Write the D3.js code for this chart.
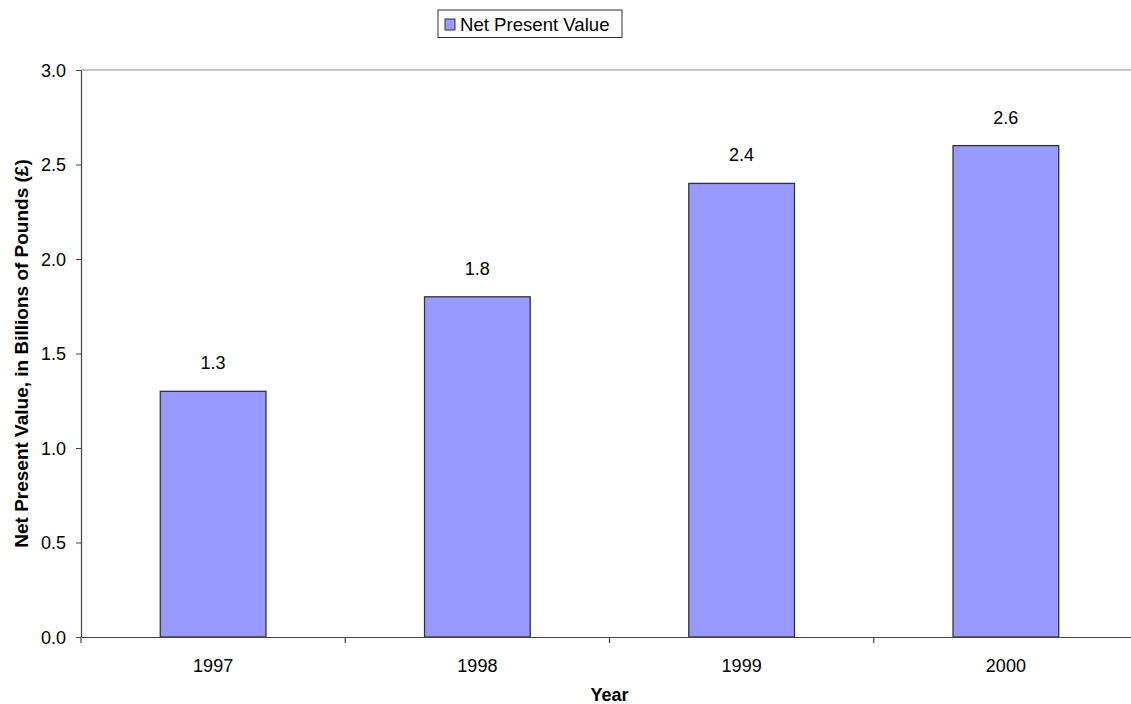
<!DOCTYPE html>
<html><head><meta charset="utf-8">
<script src="https://cdn.jsdelivr.net/npm/d3@7"></script>
<style>body{margin:0;background:#fff}svg{display:block}text{font-family:"Liberation Sans",Arial,sans-serif}</style>
</head><body><svg id="c" width="1131" height="704"></svg>
<script>
const categories = ["1997","1998","1999","2000"];
const values = [1.3, 1.8, 2.4, 2.6];
const yTicks = [0,0.5,1.0,1.5,2.0,2.5,3.0];
const seriesName = "Net Present Value";

const FS = 18;
const svg = d3.select("#c");
const L = 81, R = 1138, T = 70, B = 637;
const x = d3.scaleBand().domain(categories).range([L,R]).paddingInner(0.6).paddingOuter(0.3);
const xb = d3.scaleBand().domain(categories).range([L,R]);
const y = d3.scaleLinear().domain([0,3]).range([B,T]);

// top border line
svg.append("line").attr("x1",L).attr("x2",R).attr("y1",y(3)).attr("y2",y(3))
  .attr("stroke","#8a8a8a").attr("stroke-width",1.2);

// bars
svg.selectAll("rect.bar").data(values).join("rect").attr("class","bar")
  .attr("x",(d,i)=>x(categories[i])).attr("width",x.bandwidth())
  .attr("y",d=>y(d)).attr("height",d=>B-y(d))
  .attr("fill","#9999FF").attr("stroke","#333").attr("stroke-width",1.3);

// labels
svg.selectAll("text.val").data(values).join("text").attr("class","val")
  .attr("x",(d,i)=>x(categories[i])+x.bandwidth()/2).attr("y",d=>y(d)-22)
  .attr("text-anchor","middle").attr("font-size",FS).attr("fill","#000").text(d=>d.toFixed(1));

// y axis
const ya = svg.append("g").attr("transform",`translate(${L},0)`)
  .call(d3.axisLeft(y).tickValues(yTicks).tickFormat(d3.format(".1f")).tickSize(5).tickSizeOuter(0));
ya.select(".domain").attr("stroke","#444").attr("stroke-width",1.2);
ya.selectAll(".tick line").attr("stroke","#444");
ya.selectAll(".tick text").attr("font-size",FS).attr("fill","#000").attr("x",-15).attr("dy","0.35em")
  .style("font-family","Liberation Sans, Arial, sans-serif").attr("text-anchor","end");

// x axis
const xa = svg.append("g").attr("transform",`translate(0,${B})`)
  .call(d3.axisBottom(xb).tickSize(0).tickSizeOuter(0));
xa.select(".domain").attr("stroke","#444").attr("stroke-width",1.2);
xa.selectAll(".tick text").attr("font-size",FS).attr("fill","#000").attr("dy",null).attr("y",35)
  .style("font-family","Liberation Sans, Arial, sans-serif");
// category boundary ticks
svg.selectAll("line.sep").data(categories).join("line").attr("class","sep")
  .attr("x1",d=>xb(d)).attr("x2",d=>xb(d)).attr("y1",B).attr("y2",B+6)
  .attr("stroke","#444").attr("stroke-width",1.2);

// axis titles
svg.append("text").attr("x",(L+R)/2).attr("y",701).attr("text-anchor","middle")
  .attr("font-size",FS).attr("font-weight","bold").text("Year");
svg.append("text").attr("transform",`translate(28,${(T+B)/2}) rotate(-90)`).attr("text-anchor","middle")
  .attr("font-size",19).attr("font-weight","bold").text("Net Present Value, in Billions of Pounds (£)");

// legend
const lg = svg.append("g");
lg.append("rect").attr("x",438).attr("y",10).attr("width",184).attr("height",27.5)
  .attr("fill","#fff").attr("stroke","#333").attr("stroke-width",1);
lg.append("rect").attr("x",445).attr("y",19).attr("width",10).attr("height",11)
  .attr("fill","#9999FF").attr("stroke","#333").attr("stroke-width",1);
lg.append("text").attr("x",460).attr("y",31).attr("font-size",18.6).text(seriesName);
</script></body></html>
